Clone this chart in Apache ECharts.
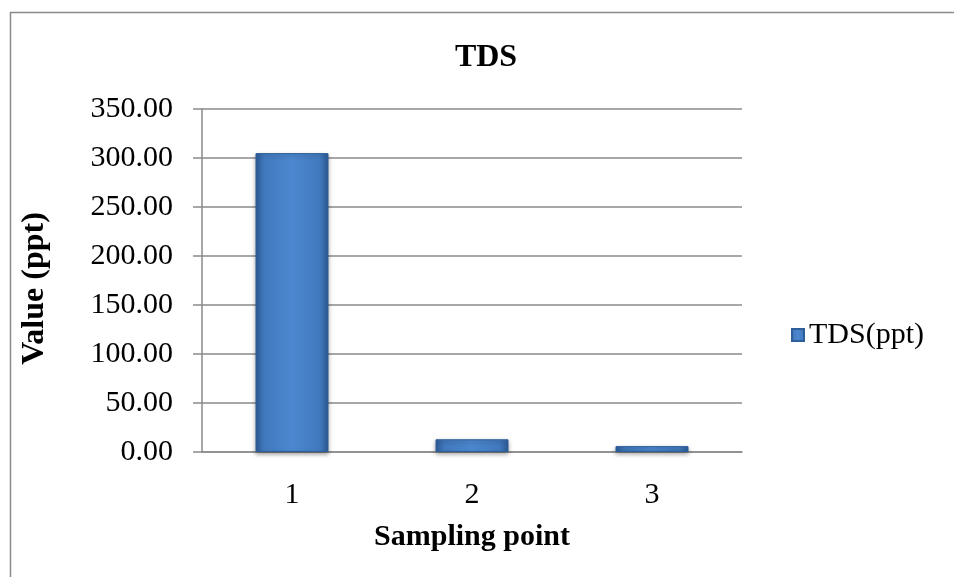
<!DOCTYPE html>
<html><head><meta charset="utf-8">
<script src="https://cdn.jsdelivr.net/npm/echarts@6/dist/echarts.min.js"></script>
<style>html,body{margin:0;padding:0;background:#fff}#c{width:954px;height:577px}</style>
</head><body><div id="c"></div>
<script>
var categories = ['1', '2', '3'];
var tdsValues = [305, 13, 6];
var seriesName = 'TDS(ppt)';
var titleText = 'TDS';
var xName = 'Sampling point';
var yName = 'Value (ppt)';

var chart = echarts.init(document.getElementById('c'));
var font = '"Liberation Serif","Times New Roman",serif';
var barGrad = new echarts.graphic.LinearGradient(0, 0, 1, 0, [
  {offset: 0, color: '#2c5c97'},
  {offset: 0.12, color: '#4179bd'},
  {offset: 0.5, color: '#4c87cf'},
  {offset: 0.88, color: '#4179bd'},
  {offset: 1, color: '#2c5c97'}
]);
chart.setOption({
  animation: false,
  backgroundColor: '#fff',
  graphic: [{
    type: 'rect', left: 8, top: 10, silent: true,
    shape: {x: 0, y: 0, width: 960, height: 580},
    style: {fill: 'none', stroke: '#8a8a8a', lineWidth: 1.5}
  }],
  title: {
    text: titleText, left: 481, top: 37, textAlign: 'center',
    textStyle: {fontFamily: font, fontWeight: 'bold', fontSize: 32, color: '#000'}
  },
  legend: {
    data: [{name: seriesName, icon: 'rect'}], left: 786, top: 315, itemWidth: 12, itemHeight: 12,
    textStyle: {fontFamily: font, fontSize: 30, color: '#000'},
    itemGap: 8
  },
  grid: {left: 202, right: 212, top: 109, bottom: 125},
  xAxis: {
    type: 'category', data: categories,
    name: xName, nameLocation: 'middle', nameGap: 70,
    nameTextStyle: {fontFamily: font, fontWeight: 'bold', fontSize: 30, color: '#000'},
    axisLine: {lineStyle: {color: '#8a8a8a', width: 1.5}},
    axisTick: {show: false},
    axisLabel: {fontFamily: font, fontSize: 30, color: '#000', margin: 28}
  },
  yAxis: {
    type: 'value', min: 0, max: 350, interval: 50,
    name: yName, nameLocation: 'middle', nameGap: 151, nameRotate: 90,
    nameTextStyle: {fontFamily: font, fontWeight: 'bold', fontSize: 32, color: '#000',
      padding: [0, 16, 0, 0]},
    axisLine: {show: true, lineStyle: {color: '#8a8a8a', width: 1.5}},
    axisTick: {show: true, length: 9, lineStyle: {color: '#8a8a8a', width: 1.5}},
    splitLine: {lineStyle: {color: '#8a8a8a', width: 1.5}},
    axisLabel: {fontFamily: font, fontSize: 30, color: '#000', margin: 29,
      formatter: function (v) { return v.toFixed(2); }}
  },
  series: [{
    name: seriesName, type: 'bar', data: tdsValues, barWidth: 73,
    itemStyle: {
      color: barGrad, borderColor: '#2f5f99', borderWidth: 1,
      shadowColor: 'rgba(0,0,0,0.35)', shadowBlur: 4, shadowOffsetY: 2
    }
  }]
});
</script></body></html>
